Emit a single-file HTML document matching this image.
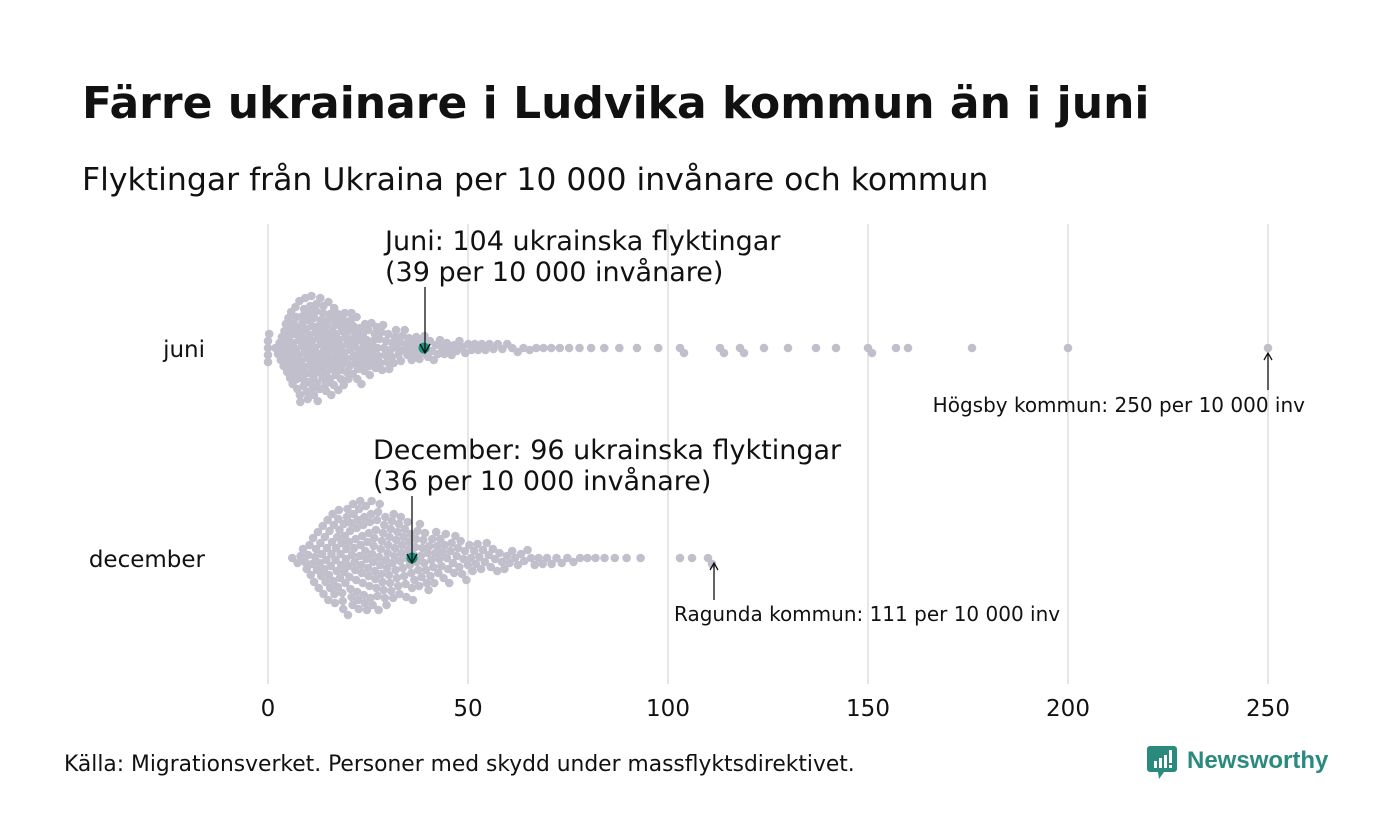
<!DOCTYPE html>
<html><head><meta charset="utf-8"><style>
body{margin:0;background:#fff;font-family:"Liberation Sans","DejaVu Sans",sans-serif;}
</style></head><body>
<svg id="s" width="1400" height="840" xmlns="http://www.w3.org/2000/svg" style="display:block">
<rect width="1400" height="840" fill="#fff"/>
<text x="82" y="118" font-size="44" font-weight="bold" fill="#111" font-family="DejaVu Sans, sans-serif">Färre ukrainare i Ludvika kommun än i juni</text>
<text x="82" y="190" font-size="31.5" fill="#111" font-family="DejaVu Sans, sans-serif">Flyktingar från Ukraina per 10 000 invånare och kommun</text>
<g stroke="#d5d5d5" stroke-width="1.2">
<line x1="268" y1="224" x2="268" y2="684"/><line x1="468" y1="224" x2="468" y2="684"/>
<line x1="668" y1="224" x2="668" y2="684"/><line x1="868" y1="224" x2="868" y2="684"/>
<line x1="1068" y1="224" x2="1068" y2="684"/><line x1="1268" y1="224" x2="1268" y2="684"/>
</g>
<g font-size="23" fill="#111" text-anchor="middle" font-family="DejaVu Sans, sans-serif">
<text x="268" y="716">0</text><text x="468" y="716">50</text><text x="668" y="716">100</text>
<text x="868" y="716">150</text><text x="1068" y="716">200</text><text x="1268" y="716">250</text>
</g>
<g font-size="23" fill="#111" text-anchor="end" font-family="DejaVu Sans, sans-serif">
<text x="205" y="357">juni</text><text x="205" y="567">december</text>
</g>
<g id="dots"></g>
<g font-family="DejaVu Sans, sans-serif" fill="#111">
<text x="385" y="250" font-size="27">Juni: 104 ukrainska flyktingar</text>
<text x="385" y="281" font-size="27">(39 per 10 000 invånare)</text>
<text x="373" y="459" font-size="27">December:  96 ukrainska flyktingar</text>
<text x="373" y="490" font-size="27">(36 per 10 000 invånare)</text>
<text x="1305" y="412" font-size="20" text-anchor="end">Högsby kommun: 250 per 10 000 inv</text>
<text x="674" y="621" font-size="20">Ragunda kommun: 111 per 10 000 inv</text>
<text x="64" y="771" font-size="21.8">Källa: Migrationsverket. Personer med skydd under massflyktsdirektivet.</text>
</g>
<g stroke="#111" stroke-width="1.3" fill="none">
<line x1="425" y1="287" x2="425" y2="352"/><path d="M420 344 L425 353 L430 344"/>
<line x1="412" y1="496" x2="412" y2="562"/><path d="M407 554 L412 563 L417 554"/>
<line x1="1268" y1="390" x2="1268" y2="353"/><path d="M1264 360 L1268 353 L1272 360"/>
<line x1="714" y1="600" x2="714" y2="563"/><path d="M710 570 L714 563 L718 570"/>
</g>
<g>
<path d="M1150 746 h24 a3 3 0 0 1 3 3 v20 a3 3 0 0 1 -3 3 h-10 l-5 7 l-1 -7 h-8 a3 3 0 0 1 -3 -3 v-20 a3 3 0 0 1 3 -3z" fill="#2a8a7e"/>
<rect x="1154" y="761" width="3" height="7" fill="#fff"/><rect x="1159" y="758" width="3" height="10" fill="#fff"/><rect x="1164" y="755" width="3" height="13" fill="#fff"/><rect x="1169" y="750" width="3" height="13" fill="#fff"/><rect x="1169" y="765" width="3" height="3" fill="#fff"/>
<text x="1187" y="768" font-size="24" font-weight="bold" fill="#2a8a7e">Newsworthy</text>
</g>
</svg>
<script>
(function(){
var NS="http://www.w3.org/2000/svg",g=document.getElementById("dots");
function erfinv(x){var a=0.147,l=Math.log(1-x*x),t=2/(Math.PI*a)+l/2;return Math.sign(x)*Math.sqrt(Math.sqrt(t*t-l/a)-t);}
function q(p){return Math.SQRT2*erfinv(2*p-1);}
function gen(n,med,sig,max,extra){var v=[];for(var i=0;i<n;i++){var x=med*Math.exp(sig*q((i+0.5)/n));if(x<max)v.push(x);}return v.concat(extra);}
function swarm(vals,cy,hl,d){
vals.sort(function(a,b){return a-b});var placed=[];
vals.forEach(function(v){var x=268+v*4,y=0,k=0;
 for(k=0;k<400;k++){var off=(k%2?1:-1)*Math.ceil(k/2)*1.0;var ok=true;
  for(var j=placed.length-1;j>=0;j--){var p=placed[j];if(x-p[0]>d)break;var dx=x-p[0],dy=off-p[1];if(dx*dx+dy*dy<d*d){ok=false;break;}}
  if(ok){y=off;break;}}
 placed.push([x,y]);});
placed.forEach(function(p){var c=document.createElementNS(NS,"circle");c.setAttribute("cx",p[0]);c.setAttribute("cy",cy+p[1]);c.setAttribute("r",4.3);c.setAttribute("fill","#c2bfcd");g.appendChild(c);});
var c=document.createElementNS(NS,"circle");c.setAttribute("cx",268+hl*4);c.setAttribute("cy",cy);c.setAttribute("r",5.5);c.setAttribute("fill","#1a9580");g.appendChild(c);}
swarm(gen(270,19,0.8,98,[0,0,0,0,0.3,103,104,113,114,118,119,124,130,137,142,150,151,157,160,176,200,250]),348,39,6.4);
swarm(gen(280,30,0.55,96,[103,106,110,111]),558,36,7.2);
})();
</script>
</body></html>
